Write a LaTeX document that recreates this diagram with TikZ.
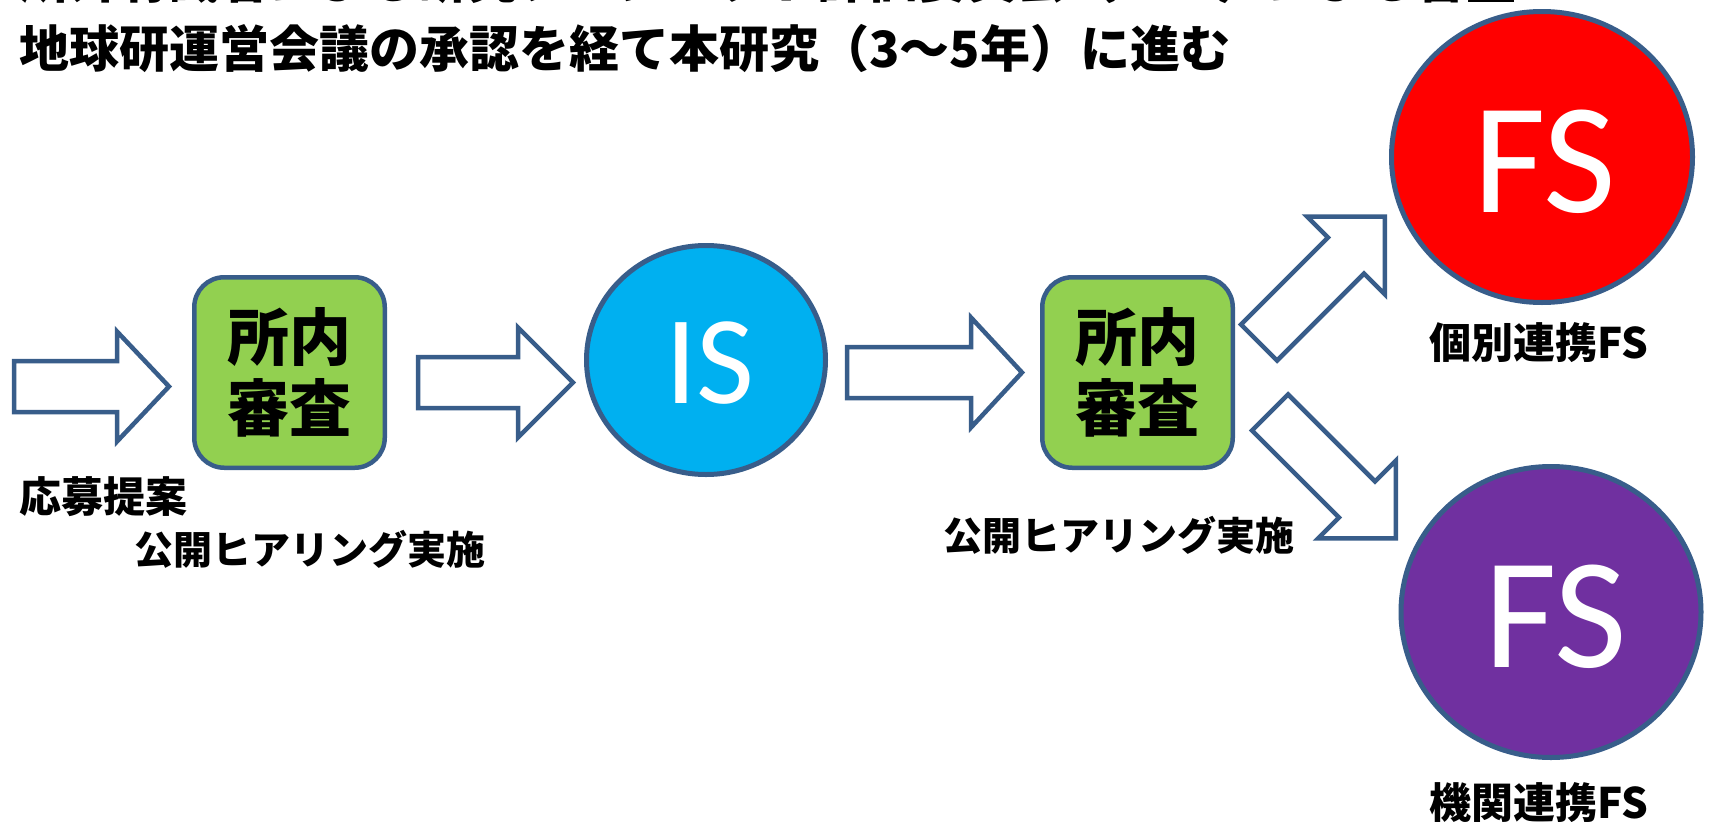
\documentclass[tikz,border=0pt]{standalone}
\usepackage{fontspec}
\newfontfamily\jpfont{Noto Sans CJK JP}
\newfontfamily\calfont{Carlito}
\usetikzlibrary{shapes.geometric}
\definecolor{bordc}{RGB}{56,93,138}
\definecolor{boxgreen}{RGB}{146,208,80}
\definecolor{isblue}{RGB}{0,176,240}
\definecolor{fsred}{RGB}{255,0,0}
\definecolor{fspurple}{RGB}{112,48,160}
\tikzset{
  arrowline/.style={draw=bordc, line width=4.5pt, fill=white, line join=miter},
  pics/barrow/.style 2 args={code={
    \path[arrowline] (0,-25.5) -- (#1,-25.5) -- (#1,-55) -- ({#1+#2},0)
      -- (#1,55) -- (#1,25.5) -- (0,25.5) -- cycle;}},
  review/.style={draw=bordc, line width=4.5pt, fill=boxgreen, rounded corners=30pt,
    minimum width=190.5pt, minimum height=190.5pt, inner sep=0pt, align=center,
    font=\jpfont\bfseries\fontsize{62}{71}\selectfont},
  stage/.style={ellipse, draw=bordc, line width=5pt, inner sep=0pt},
  bigtext/.style={text=white, inner sep=0pt, anchor=base},
  lbl/.style={inner sep=0pt, anchor=base},
  titletext/.style={inner sep=0pt, anchor=base west,
    font=\jpfont\bfseries\fontsize{50}{60}\selectfont},
}
\begin{document}
\begin{tikzpicture}[x=1pt,y=-1pt]
\useasboundingbox (0,0) rectangle (1714,822);
\fill[white] (0,0) rectangle (1714,822);
\clip (0,0) rectangle (1714,822);

% title
\node[titletext] (title1) at (19,-2) {所外有識者による研究プロジェクト評価委員会（ＥＲ）による審査};
\node[titletext] (title2) at (19,67) {地球研運営会議の承認を経て本研究（3～5年）に進む};

% block arrows
\pic[shift={(14,386.5)}] {barrow={103}{52}};
\pic[shift={(418,382.5)}] {barrow={100}{55}};
\pic[shift={(847,372.5)}] {barrow={124}{51}};
\pic[shift={(1259,342.5)}, rotate=45] {barrow={123}{55}};
\pic[shift={(1270,412.5)}, rotate=-45] {barrow={123}{55}};

% review boxes
\node[review] (box1) at (289.5,372.5) {所内\\審査};
\node[review] (box2) at (1137.5,372.5) {所内\\審査};

% stages
\node[stage, fill=isblue, minimum width=239pt, minimum height=229pt] (is) at (706,360) {};
\node[bigtext, font=\calfont\fontsize{126}{126}\selectfont] (istext) at (710,403) {IS};

\node[stage, fill=fsred, minimum width=301pt, minimum height=291pt] (fs1) at (1542,157) {};
\node[bigtext, font=\calfont\fontsize{158}{158}\selectfont] (fs1text) at (1545,212) {FS};

\node[stage, fill=fspurple, minimum width=300pt, minimum height=291pt] (fs2) at (1551,612) {};
\node[bigtext, font=\calfont\fontsize{158}{158}\selectfont] (fs2text) at (1556,667) {FS};

% labels
\node[lbl, anchor=base west, font=\jpfont\bfseries\fontsize{42}{50}\selectfont] (apply) at (19,512.5) {応募提案};
\node[lbl, font=\jpfont\bfseries\fontsize{39}{47}\selectfont] (hear1) at (310,564.7) {公開ヒアリング実施};
\node[lbl, font=\jpfont\bfseries\fontsize{39}{47}\selectfont] (hear2) at (1118.5,550.7) {公開ヒアリング実施};
\node[lbl, font=\jpfont\bfseries\fontsize{42}{50}\selectfont] (fs1lbl) at (1538.5,358.5) {個別連携FS};
\node[lbl, font=\jpfont\bfseries\fontsize{42}{50}\selectfont] (fs2lbl) at (1538.5,818) {機関連携FS};
\end{tikzpicture}
\end{document}
